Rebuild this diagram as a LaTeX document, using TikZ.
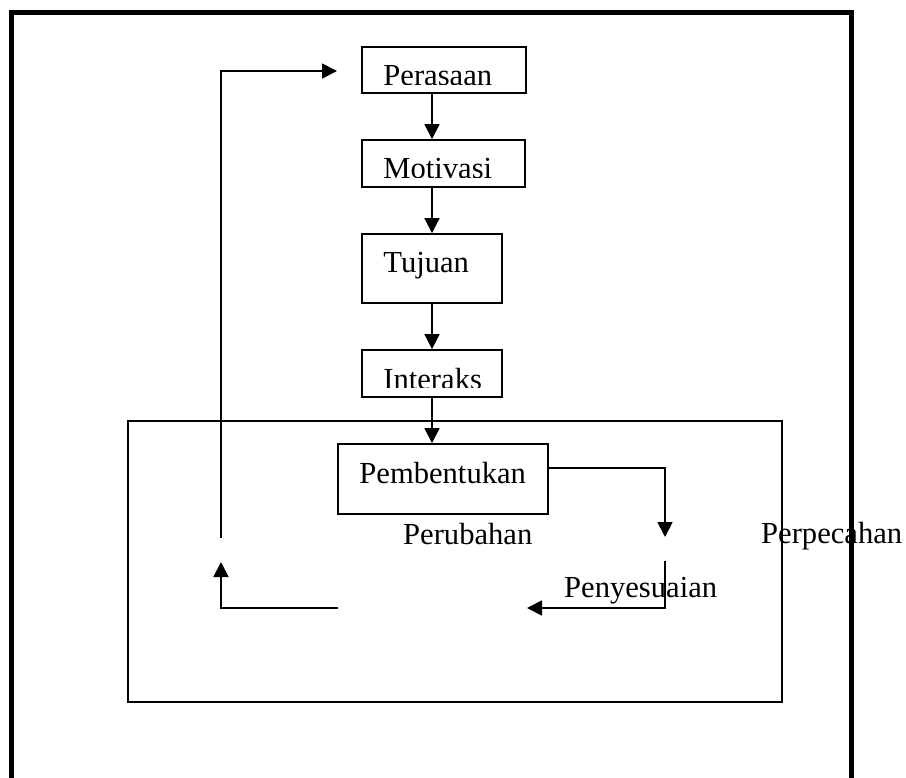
\documentclass[tikz,border=0pt]{standalone}
\usepackage{fontspec}
\setmainfont{Liberation Serif}
\usetikzlibrary{arrows.meta}
\begin{document}
\begin{tikzpicture}[x=1pt,y=-1pt,
    font=\fontsize{30.6}{36}\selectfont,
    box/.style={draw,line width=1.8pt,inner sep=0pt},
    word/.style={draw=none,inner sep=0pt,minimum width=0pt,minimum height=0pt,anchor=base west},
    intext/.style={path picture={
      \node[word] at ([xshift=20.5pt,yshift=-39pt]path picture bounding box.north west) {#1};}},
    cuttext/.style={path picture={
      \clip ([yshift=-38pt]path picture bounding box.north west) rectangle (path picture bounding box.north east);
      \node[word] at ([xshift=20.5pt,yshift=-39pt]path picture bounding box.north west) {#1};}},
    arr/.style={line width=1.8pt,-{Triangle[length=15pt,width=15pt]}},
    frame/.style={line width=5pt}]
  \useasboundingbox (0,0) rectangle (906,778);
  % labels first, lines run over them
  \node[word] (perubahan) at (403,544) {Perubahan};
  \node[word] (perpecahan) at (761,543) {Perpecahan};
  \node[word] (penyesuaian) at (564,597) {Penyesuaian};
  % boxes
  \node[box,minimum width=164,minimum height=46,cuttext=Perasaan] (perasaan) at (444,70) {};
  \node[box,minimum width=163,minimum height=47,cuttext=Motivasi] (motivasi) at (443.5,163.5) {};
  \node[box,minimum width=140,minimum height=69,intext=Tujuan] (tujuan) at (432,268.5) {};
  \node[box,minimum width=140,minimum height=47,cuttext=Interaks] (interaks) at (432,373.5) {};
  \node[box,minimum width=654,minimum height=281] (group) at (455,561.5) {};
  \node[box,minimum width=210,minimum height=70,intext=Pembentukan] (pembentukan) at (443,479) {};
  % chain
  \draw[arr] (perasaan.south -| tujuan.center) -- (motivasi.north -| tujuan.center);
  \draw[arr] (motivasi.south -| tujuan.center) -- (tujuan.north);
  \draw[arr] (tujuan.south) -- (interaks.north);
  \draw[arr] (interaks.south) -- (interaks.south |- pembentukan.north);
  % loop
  \coordinate (splitdn) at (665,537);
  \draw[arr] ([yshift=11pt]pembentukan.east) -| (splitdn);
  \coordinate (adjtop) at (665,561);
  \coordinate (adjend) at (527,608);
  \draw[arr] (adjtop) |- (adjend);
  \coordinate (chgbeg) at (338,608);
  \coordinate (chgend) at (221,562);
  \draw[arr] (chgbeg) -| (chgend);
  \coordinate (backbeg) at (221,538);
  \coordinate (backend) at (337,71);
  \draw[arr] (backbeg) |- (backend);
  % outer frame
  \draw[frame] (11,778) -- (11,13) -- (851,13) -- (851,778);
\end{tikzpicture}
\end{document}
